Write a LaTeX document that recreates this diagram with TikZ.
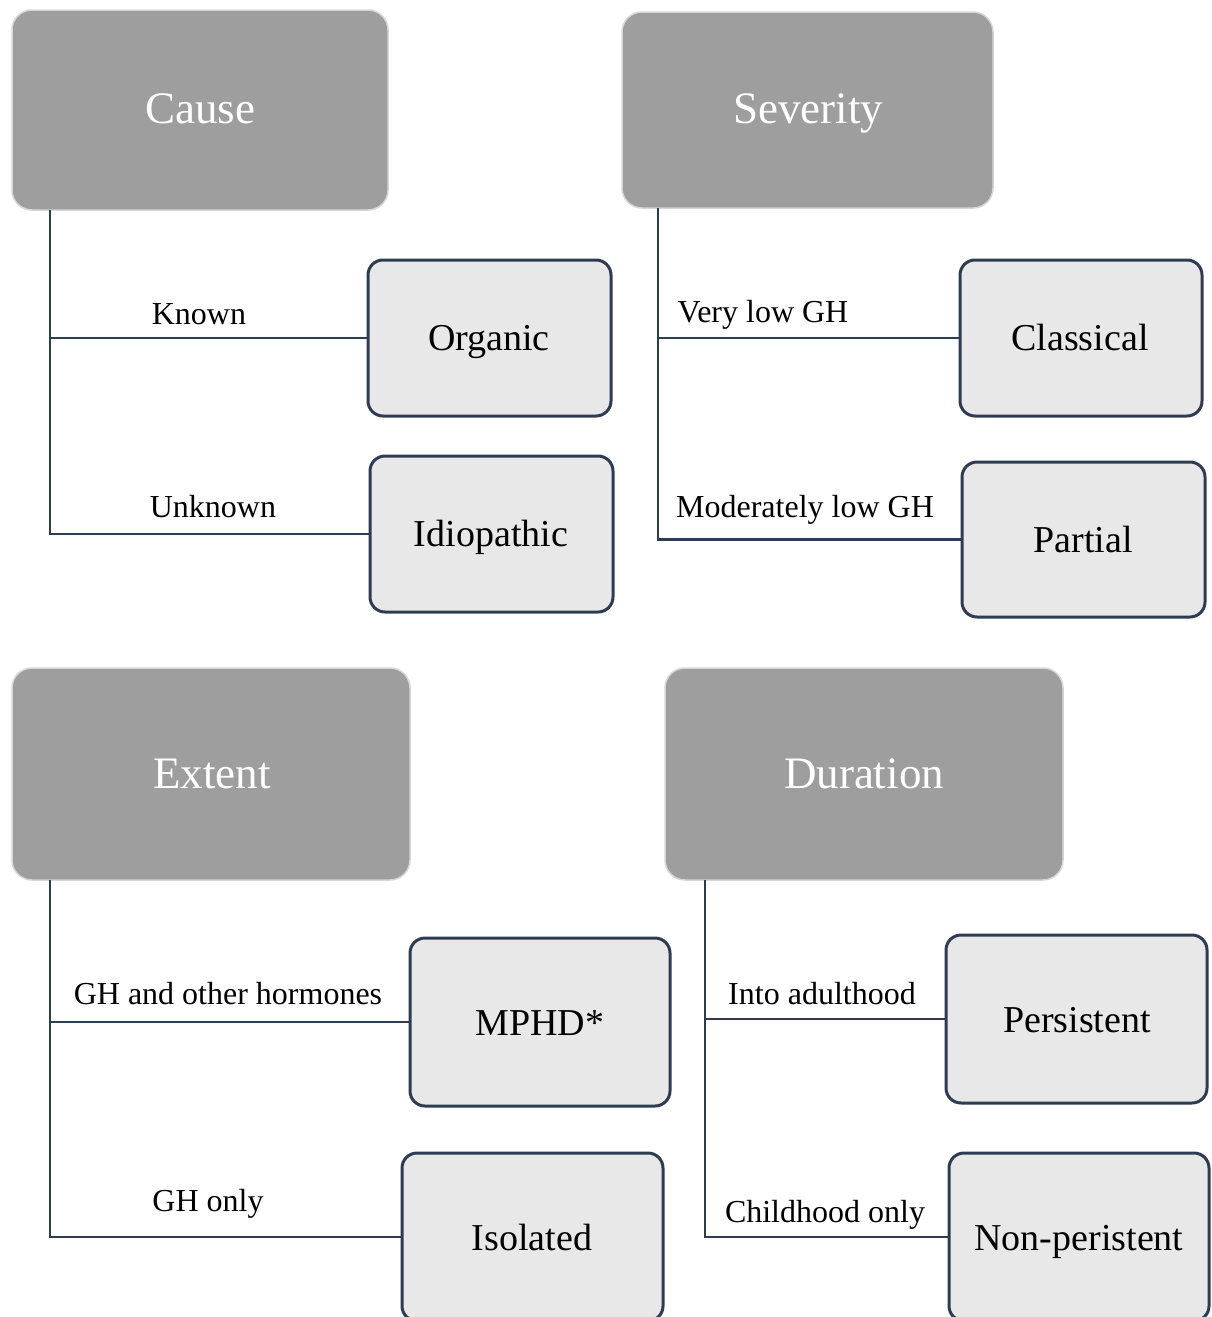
\documentclass[tikz,border=0pt]{standalone}
\usepackage{fontspec}
\setmainfont{Liberation Serif}
\definecolor{hdr}{HTML}{9E9E9E}
\definecolor{hdredge}{HTML}{D6D6D6}
\definecolor{kid}{HTML}{E8E8E8}
\definecolor{navy}{HTML}{2E3C52}
\begin{document}
\begin{tikzpicture}[x=1pt,y=-1pt,
  header/.style={fill=hdr,draw=hdredge,line width=1.5pt,rounded corners=20pt,text=white,
    font=\fontsize{45}{50}\selectfont,inner sep=0pt},
  kidbox/.style={fill=kid,draw=navy,line width=3pt,rounded corners=15pt,
    font=\fontsize{38}{44}\selectfont,inner sep=0pt},
  lbl/.style={font=\fontsize{32}{36}\selectfont,anchor=base,inner sep=0pt},
  link/.style={draw=navy,line width=2.8pt}]
\useasboundingbox (0,0) rectangle (1212,1317);
\clip (0,0) rectangle (1212,1317);
\fill[white] (0,0) rectangle (1212,1317);
% headers
\node[header,minimum width=376pt,minimum height=200pt] (cause) at (200,110) {};
\node at (200,123) [anchor=base,text=white,font=\fontsize{45}{50}\selectfont,inner sep=0pt] (causet) {Cause};
\node[header,minimum width=371pt,minimum height=196pt] (sev) at (807.5,110) {};
\node at (808,123) [anchor=base,text=white,font=\fontsize{45}{50}\selectfont,inner sep=0pt] (sevt) {Severity};
\node[header,minimum width=398pt,minimum height=212pt] (ext) at (211,774) {};
\node at (212,788) [anchor=base,text=white,font=\fontsize{45}{50}\selectfont,inner sep=0pt] (extt) {Extent};
\node[header,minimum width=398pt,minimum height=212pt] (dur) at (864,774) {};
\node at (864,788) [anchor=base,text=white,font=\fontsize{45}{50}\selectfont,inner sep=0pt] (durt) {Duration};
% children
\node[kidbox,minimum width=243pt,minimum height=156pt] (org) at (489.5,338) {};
\node at (489,350) [anchor=base,font=\fontsize{38}{44}\selectfont,inner sep=0pt] (orgt) {Organic};
\node[kidbox,minimum width=243pt,minimum height=156pt] (idio) at (491.5,534) {};
\node at (491,546) [anchor=base,font=\fontsize{38}{44}\selectfont,inner sep=0pt] (idiot) {Idiopathic};
\node[kidbox,minimum width=242pt,minimum height=156pt] (cls) at (1081,338) {};
\node at (1080,350) [anchor=base,font=\fontsize{38}{44}\selectfont,inner sep=0pt] (clst) {Classical};
\node[kidbox,minimum width=243pt,minimum height=155pt] (par) at (1083.5,539.5) {};
\node at (1083,552) [anchor=base,font=\fontsize{38}{44}\selectfont,inner sep=0pt] (part) {Partial};
\node[kidbox,minimum width=260pt,minimum height=168pt] (mphd) at (540,1022) {};
\node at (540,1035) [anchor=base,font=\fontsize{38}{44}\selectfont,inner sep=0pt] (mphdt) {MPHD*};
\node[kidbox,minimum width=261pt,minimum height=168pt] (iso) at (532.5,1237) {};
\node at (532,1250) [anchor=base,font=\fontsize{38}{44}\selectfont,inner sep=0pt] (isot) {Isolated};
\node[kidbox,minimum width=261pt,minimum height=168pt] (pers) at (1076.5,1019) {};
\node at (1077,1032) [anchor=base,font=\fontsize{38}{44}\selectfont,inner sep=0pt] (perst) {Persistent};
\node[kidbox,minimum width=260pt,minimum height=168pt] (nonp) at (1079,1237) {};
\node at (1079,1250) [anchor=base,font=\fontsize{38}{44}\selectfont,inner sep=0pt] (nonpt) {Non-peristent};
% connectors
\coordinate (c1) at (50,210);
\coordinate (c2) at (658,208);
\coordinate (c3) at (50,880);
\coordinate (c4) at (705,880);
\draw[link] (c1) |- (org.west);
\draw[link] (c1) |- (idio.west);
\draw[link] (c2) |- (cls.west);
\draw[link] (c2) |- (par.west);
\draw[link] (c3) |- (mphd.west);
\draw[link] (c3) |- (iso.west);
\draw[link] (c4) |- (pers.west);
\draw[link] (c4) |- (nonp.west);
% labels
\node[lbl] (l1) at (199,324) {Known};
\node[lbl] (l2) at (213,517) {Unknown};
\node[lbl] (l3) at (763,322) {Very low GH};
\node[lbl] (l4) at (805,517) {Moderately low GH};
\node[lbl] (l5) at (228,1004) {GH and other hormones};
\node[lbl] (l6) at (208,1211) {GH only};
\node[lbl] (l7) at (822,1004) {Into adulthood};
\node[lbl] (l8) at (825,1222) {Childhood only};
\end{tikzpicture}
\end{document}
